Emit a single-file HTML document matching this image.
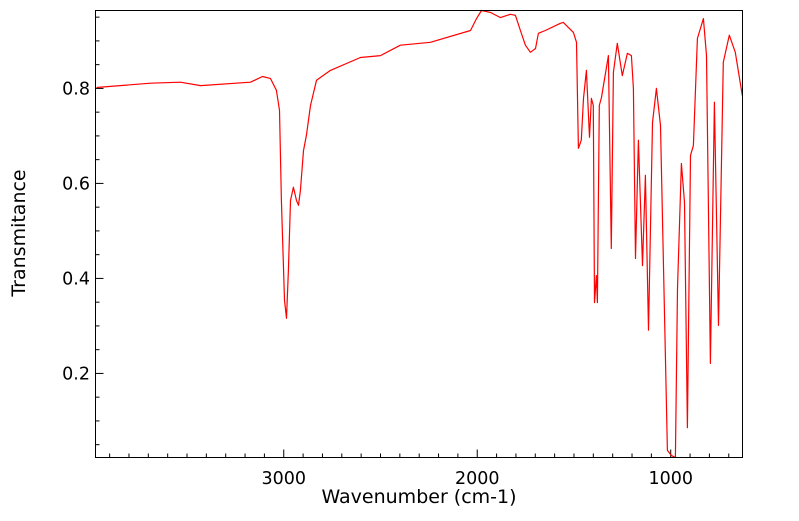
<!DOCTYPE html>
<html><head><meta charset="utf-8"><style>
body{margin:0;background:#fff;}
svg text{font-family:"DejaVu Sans","Liberation Sans",sans-serif;fill:#000;}
.tk{font-size:17.5px;}
.tt{font-size:19px;}
</style></head><body>
<svg id="chart" width="799" height="516" xmlns="http://www.w3.org/2000/svg">
<g id="axes"></g>
<path id="line" fill="none" stroke="#ff0000" stroke-width="1.2" stroke-linejoin="round"/>
<rect x="95.5" y="10.5" width="647" height="447" fill="none" stroke="#000" stroke-width="1"/>
<text class="tt" transform="translate(25,233) rotate(-90)" text-anchor="middle">Transmitance</text>
<text class="tt" x="419" y="503" text-anchor="middle">Wavenumber (cm-1)</text>
</svg>
<script>
const wavenumbers=[3968,3689,3534,3430,3172,3110,3069,3038,3022,3012,2996,2986,2976,2965,2950,2934,2924,2914,2898,2883,2862,2831,2759,2604,2500,2397,2242,2035,2004,1978,1932,1880,1829,1803,1777,1751,1725,1699,1684,1648,1570,1555,1503,1487,1477,1462,1451,1436,1420,1410,1400,1394,1384,1379,1369,1358,1322,1307,1296,1276,1250,1224,1203,1193,1182,1167,1146,1131,1115,1094,1074,1053,1017,996,976,965,945,929,914,898,883,862,831,815,795,774,753,728,697,666,630];
const transmittance=[.802,.811,.813,.806,.813,.825,.821,.796,.754,.564,.354,.316,.417,.564,.592,.564,.554,.585,.669,.701,.764,.817,.838,.865,.869,.891,.897,.922,.947,.964,.96,.949,.956,.954,.922,.891,.876,.884,.916,.922,.937,.939,.918,.897,.674,.691,.779,.838,.697,.779,.764,.349,.406,.349,.764,.781,.869,.463,.834,.895,.827,.874,.869,.8,.442,.691,.427,.617,.291,.728,.8,.722,.038,.027,.023,.379,.642,.56,.086,.659,.68,.905,.947,.869,.221,.771,.301,.855,.912,.876,.785];
const xTicks=[3000,2000,1000];
const yTicks=[0.2,0.4,0.6,0.8];
const X0=95.5,X1=742.5,Y0=10.5,Y1=457.5;
const WN_L=3973,WN_R=629,T_TOP=0.964,T_BOT=0.023;
function sx(w){return X0+(WN_L-w)/(WN_L-WN_R)*(X1-X0);}
function sy(t){return Y0+(T_TOP-t)/(T_TOP-T_BOT)*(Y1-Y0);}
const ns="http://www.w3.org/2000/svg";
let d="";
for(let i=0;i<wavenumbers.length;i++){d+=(i?"L":"M")+sx(wavenumbers[i]).toFixed(1)+","+sy(transmittance[i]).toFixed(1);}
document.getElementById("line").setAttribute("d",d);
const ax=document.getElementById("axes");
function ln(x1,y1,x2,y2){const l=document.createElementNS(ns,"line");l.setAttribute("x1",x1);l.setAttribute("y1",y1);l.setAttribute("x2",x2);l.setAttribute("y2",y2);l.setAttribute("stroke","#000");l.setAttribute("stroke-width","1");


ax.appendChild(l);}
for(let w=3900;w>=WN_R;w-=100){const x=sx(w);const major=w%1000===0;ln(x,Y1,x,Y1-(major?8:4));}
for(let t=0.05;t<T_TOP;t+=0.05){const y=sy(t);const major=Math.abs(t*10-Math.round(t*10))<1e-6&&Math.round(t*10)%2===0;ln(X0,y,X0+(major?8:4),y);}
xTicks.forEach(v=>{const t=document.createElementNS(ns,"text");t.setAttribute("class","tk");t.setAttribute("x",sx(v));t.setAttribute("y",484);t.setAttribute("text-anchor","middle");t.textContent=v;


ax.appendChild(t);});
yTicks.forEach(v=>{const t=document.createElementNS(ns,"text");t.setAttribute("class","tk");t.setAttribute("x",90);t.setAttribute("y",sy(v)+6);t.setAttribute("text-anchor","end");t.textContent=v.toFixed(1);


ax.appendChild(t);});
</script>
</body></html>
